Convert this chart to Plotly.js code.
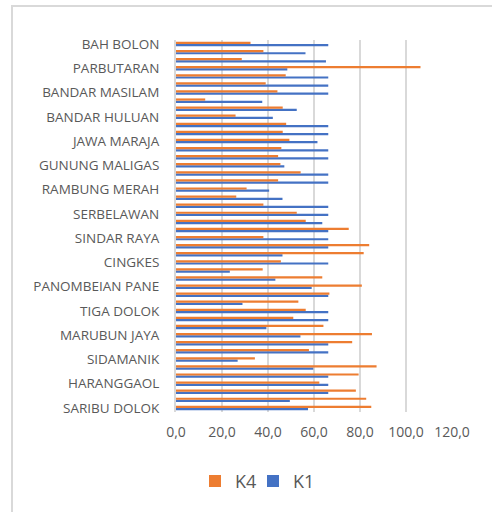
<!DOCTYPE html>
<html>
<head>
<meta charset="utf-8">
<script src="https://cdn.plot.ly/plotly-3.0.1.min.js"></script>
<style>
  html, body { margin: 0; padding: 0; background: #fff; }
  #wrap { position: relative; width: 492px; height: 512px; overflow: hidden; }
  #chart { position: absolute; left: 0; top: 0; width: 492px; height: 512px; }
  #frameL { position: absolute; left: 11px; top: 5px; width: 2px; height: 507px; background: #d9d9d9; }
  #frameT { position: absolute; left: 11px; top: 5px; width: 481px; height: 2px; background: #d9d9d9; }
</style>
</head>
<body>
<div id="wrap">
  <div id="chart"></div>
  <div id="frameL"></div>
  <div id="frameT"></div>
</div>
<script>
// Categories, listed bottom-to-top (first category drawn at the bottom)
const categories = [
  "SARIBU DOLOK", "PURBA", "TIGA RUNGGU",
  "HARANGGAOL", "DOLOK PARDAMEAN", "SARIMATONDANG",
  "SIDAMANIK", "PARAPAT", "TIGA BALATA",
  "MARUBUN JAYA", "PEMATANG RAYA", "SINAMAN",
  "TIGA DOLOK", "NAGORI DOLOK", "TANAH JAWA",
  "PANOMBEIAN PANE", "HATONDUHAN", "BAH BIAK",
  "CINGKES", "DOLOK PANRIBUAN", "PANEI TONGAH",
  "SINDAR RAYA", "PEMATANG BANDAR", "TANJUNG PASIR",
  "SERBELAWAN", "PERDAGANGAN", "KERASAAN",
  "RAMBUNG MERAH", "BANGUN", "DOLOK SILAU",
  "GUNUNG MALIGAS", "SILOU KAHEAN", "RAYA KAHEAN",
  "JAWA MARAJA", "NAGA HUTA", "BATU ANAM",
  "BANDAR HULUAN", "KARANG SARI", "PEMATANG TANAH JAWA",
  "BANDAR MASILAM", "HUTA BAYU", "MARJANDI",
  "PARBUTARAN", "BOSAR MALIGAS", "PASAR BARU",
  "BAH BOLON"
];

// Only every third category is labelled on the axis
const labelledCategories = [
  "SARIBU DOLOK", "HARANGGAOL", "SIDAMANIK", "MARUBUN JAYA",
  "TIGA DOLOK", "PANOMBEIAN PANE", "CINGKES", "SINDAR RAYA",
  "SERBELAWAN", "RAMBUNG MERAH", "GUNUNG MALIGAS", "JAWA MARAJA",
  "BANDAR HULUAN", "BANDAR MASILAM", "PARBUTARAN", "BAH BOLON"
];

const k4Values = [
  84.9, 82.7, 78.2,
  62.3, 79.4, 87.2,
  34.3, 57.8, 76.6,
  85.2, 64.1, 51.0,
  56.4, 53.2, 66.7,
  80.8, 63.6, 37.7,
  45.6, 81.6, 84.0,
  38.0, 75.1, 56.4,
  52.5, 38.0, 26.2,
  30.7, 44.4, 54.2,
  45.4, 44.4, 45.8,
  49.3, 46.4, 47.9,
  25.9, 46.4, 12.7,
  44.1, 39.0, 47.7,
  106.3, 28.6, 38.0,
  32.4
];

const k1Values = [
  57.4, 49.5, 66.2,
  66.2, 66.2, 59.7,
  26.8, 66.2, 66.2,
  54.1, 39.3, 66.2,
  66.2, 28.9, 66.2,
  59.0, 43.2, 23.4,
  66.2, 46.3, 66.2,
  66.2, 66.2, 63.6,
  66.2, 66.2, 46.3,
  40.5, 66.2, 66.2,
  47.1, 66.2, 66.2,
  61.5, 66.2, 66.2,
  42.1, 52.5, 37.5,
  66.2, 66.2, 66.2,
  48.4, 65.2, 56.3,
  66.2
];

const xTickValues = [0, 20, 40, 60, 80, 100, 120];

const traces = [
  {
    type: "bar", orientation: "h", name: "K1",
    y: categories, x: k1Values,
    marker: { color: "#4472C4" },
    legend: "legend2",
    hoverinfo: "skip"
  },
  {
    type: "bar", orientation: "h", name: "K4",
    y: categories, x: k4Values,
    marker: { color: "#ED7D31" },
    legend: "legend",
    hoverinfo: "skip"
  }
];

const fontFamily = "Open Sans, Noto Sans, sans-serif";
const legendFont = { family: fontFamily, size: 18, color: "#595959" };

const layout = {
  width: 492, height: 512,
  margin: { l: 176, r: 40, t: 40, b: 100, pad: 0 },
  paper_bgcolor: "#ffffff",
  plot_bgcolor: "#ffffff",
  barmode: "group",
  bargap: 0.45,
  bargroupgap: 0,
  separators: ",.",
  showlegend: true,
  legend: {
    orientation: "h",
    xref: "container", yref: "container",
    x: 195 / 492, xanchor: "left",
    y: 0.06, yanchor: "middle",
    bgcolor: "rgba(0,0,0,0)",
    font: legendFont,
    itemwidth: 30
  },
  legend2: {
    orientation: "h",
    xref: "container", yref: "container",
    x: 253 / 492, xanchor: "left",
    y: 0.06, yanchor: "middle",
    bgcolor: "rgba(0,0,0,0)",
    font: legendFont,
    itemwidth: 30
  },
  xaxis: {
    range: [0, 120],
    tickvals: xTickValues,
    tickformat: ".1f",
    showgrid: true,
    gridcolor: "#d9d9d9",
    gridwidth: 2,
    zeroline: false,
    showline: false,
    ticks: "",
    ticklabelstandoff: 10,
    tickfont: { family: fontFamily, size: 14, color: "#595959" },
    fixedrange: true
  },
  yaxis: {
    type: "category",
    categoryorder: "array",
    categoryarray: categories,
    range: [-0.5, categories.length - 0.5],
    tickmode: "array",
    tickvals: labelledCategories,
    ticktext: labelledCategories,
    showgrid: false,
    zeroline: false,
    showline: true,
    linecolor: "#d9d9d9",
    linewidth: 2,
    ticks: "",
    ticklabelstandoff: 12,
    tickfont: { family: fontFamily, size: 13.5, color: "#595959" },
    fixedrange: true
  }
};

Plotly.newPlot("chart", traces, layout, { displayModeBar: false, staticPlot: true });
</script>
</body>
</html>
